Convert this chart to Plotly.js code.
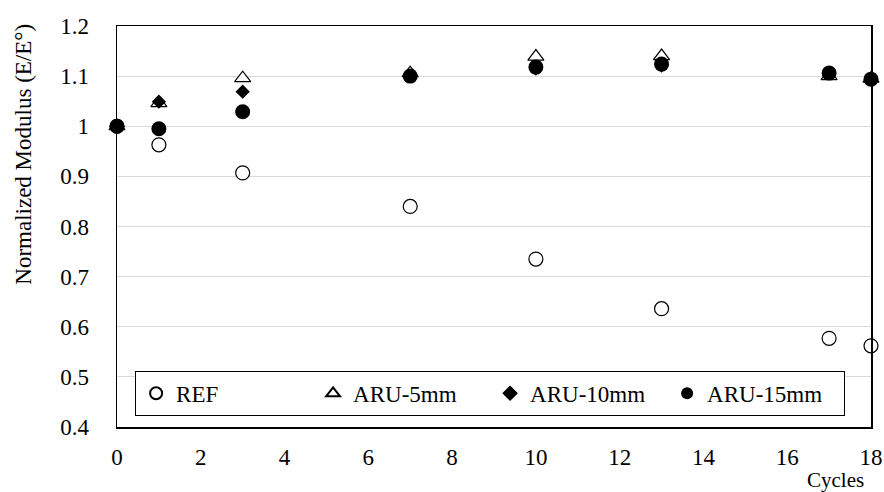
<!DOCTYPE html>
<html>
<head>
<meta charset="utf-8">
<script src="https://cdn.plot.ly/plotly-3.0.1.min.js"></script>
<style>html,body{margin:0;padding:0;background:#fff;}#chart{width:884px;height:492px;}</style>
</head>
<body>
<div id="chart"></div>
<script>
const cycles = [0, 1, 3, 7, 10, 13, 17, 18];
const ref    = [1.0, 0.963, 0.907, 0.840, 0.735, 0.636, 0.577, 0.562];
const aru5   = [1.0, 1.046, 1.096, 1.106, 1.139, 1.140, 1.100, 1.095];
const aru10  = [1.0, 1.049, 1.069, 1.100, 1.115, 1.121, 1.106, 1.095];
const aru15  = [1.0, 0.995, 1.029, 1.100, 1.118, 1.124, 1.106, 1.094];
const names  = ['REF', 'ARU-5mm', 'ARU-10mm', 'ARU-15mm'];

const FONT = '"Liberation Serif", "DejaVu Serif", serif';
const series = [ref, aru5, aru10, aru15];
const markers = [
  {symbol: 'circle', size: 14, color: '#ffffff', line: {color: '#000', width: 1.2}},
  {symbol: 'triangle-up', size: 14, color: '#ffffff', line: {color: '#000', width: 1.2}},
  {symbol: 'diamond', size: 11, color: '#000', line: {color: '#000', width: 0}},
  {symbol: 'circle', size: 15, color: '#000', line: {color: '#000', width: 0}}
];
const data = series.map((s, i) => ({
  x: cycles, y: s, name: names[i], type: 'scatter', mode: 'markers',
  marker: markers[i], cliponaxis: false
}));

const layout = {
  width: 884, height: 492,
  margin: {l: 117, r: 13, t: 26, b: 65},
  paper_bgcolor: '#fff', plot_bgcolor: '#fff',
  font: {family: FONT, size: 22, color: '#000'},
  showlegend: true,
  legend: {
    orientation: 'h', x: 0.024, y: 0.14, xanchor: 'left', yanchor: 'top',
    bordercolor: '#000', borderwidth: 1, bgcolor: '#fff',
    font: {family: FONT, size: 23, color: '#000'},
    entrywidth: 132, itemsizing: 'constant'
  },
  xaxis: {
    range: [0, 18], dtick: 2, tick0: 0,
    showgrid: false, zeroline: false,
    showline: true, mirror: true, linecolor: '#000', linewidth: 1.5,
    ticks: '', ticklabelstandoff: 9,
    tickfont: {family: FONT, size: 23, color: '#000'}
  },
  yaxis: {
    range: [0.4, 1.2], dtick: 0.1, tick0: 0.4,
    showgrid: true, gridcolor: '#d9d9d9', gridwidth: 1, zeroline: false,
    showline: true, mirror: true, linecolor: '#000', linewidth: 1.5,
    ticks: '', ticklabelstandoff: 22,
    tickfont: {family: FONT, size: 23, color: '#000'}
  },
  annotations: [
    {
      text: 'Cycles', xref: 'paper', yref: 'paper', x: 0.953, y: 0, yshift: -53,
      xanchor: 'center', yanchor: 'middle', showarrow: false,
      font: {family: FONT, size: 21, color: '#000'}
    },
    {
      text: 'Normalized Modulus (E/E°)', xref: 'paper', yref: 'paper', x: 0, xshift: -93,
      y: 0.679, xanchor: 'center', yanchor: 'middle', textangle: -90, showarrow: false,
      font: {family: FONT, size: 23, color: '#000'}
    }
  ]
};
Plotly.newPlot('chart', data, layout, {displayModeBar: false, staticPlot: true});
</script>
</body>
</html>
